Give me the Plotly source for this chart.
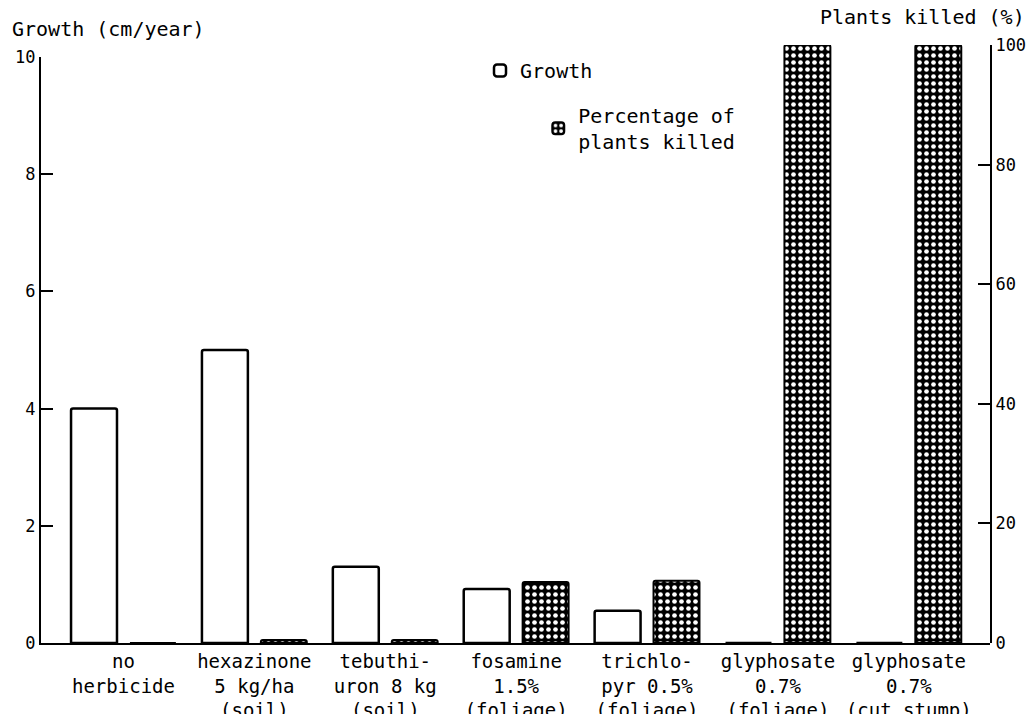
import plotly.graph_objects as go

categories = [
    "no<br>herbicide",
    "hexazinone<br>5 kg/ha<br>(soil)",
    "tebuthi-<br>uron 8 kg<br>(soil)",
    "fosamine<br>1.5%<br>(foliage)",
    "trichlo-<br>pyr 0.5%<br>(foliage)",
    "glyphosate<br>0.7%<br>(foliage)",
    "glyphosate<br>0.7%<br>(cut stump)",
]
growth = [4.0, 5.0, 1.3, 0.92, 0.55, 0.0, 0.0]
killed = [0.0, 0.5, 0.5, 10.2, 10.4, 100.0, 100.0]
left_ticks = [0, 2, 4, 6, 8, 10]
right_ticks = [0, 20, 40, 60, 80, 100]

xpos = list(range(len(categories)))
FONT = "DejaVu Sans Mono"
FS = 20
CAT_FS = 19
NUM_FS = 17

fig = go.Figure()
fig.add_trace(go.Bar(
    x=xpos, y=growth, name="Growth", xaxis="x", yaxis="y",
    offsetgroup="g", alignmentgroup="a",
    marker=dict(color="white", line=dict(color="black", width=2.5), cornerradius=2),
    legend="legend", showlegend=True,
))
fig.add_trace(go.Bar(
    x=xpos, y=killed, name="Percentage of<br>plants killed", xaxis="x", yaxis="y2",
    offsetgroup="k", alignmentgroup="a",
    marker=dict(color="black", line=dict(color="black", width=2), cornerradius=2,
                pattern=dict(shape=".", fgcolor="white", bgcolor="black",
                             size=7, solidity=0.35, fillmode="replace")),
    legend="legend2", showlegend=True,
))

fig.update_layout(
    width=1035, height=714,
    margin=dict(l=33, r=53, t=37, b=79),
    paper_bgcolor="white", plot_bgcolor="rgba(0,0,0,0)",
    font=dict(family=FONT, size=FS, color="black"),
    showlegend=True,
    barmode="group", bargap=0.10, bargroupgap=0.22,
    xaxis=dict(
        range=[-0.63, 6.62], tickvals=xpos, ticktext=categories,
        showline=True, linecolor="black", linewidth=2, ticks="",
        showgrid=False, zeroline=False, anchor="y", automargin=False,
        ticklabelstandoff=0,
        tickfont=dict(family=FONT, size=CAT_FS),
    ),
    yaxis=dict(
        domain=[0, 0.98], range=[0, 10], tickvals=left_ticks,
        showline=True, linecolor="black", linewidth=2,
        ticks="inside", ticklen=12, tickwidth=2, tickcolor="black",
        showgrid=False, zeroline=False, anchor="x", side="left",
        automargin=False,
        tickfont=dict(family=FONT, size=NUM_FS),
    ),
    yaxis2=dict(
        domain=[0, 1], range=[0, 100], tickvals=right_ticks,
        showline=True, linecolor="black", linewidth=2,
        ticks="inside", ticklen=12, tickwidth=2, tickcolor="black",
        showgrid=False, zeroline=False, anchor="x", side="right",
        automargin=False,
        tickfont=dict(family=FONT, size=NUM_FS),
    ),
    legend=dict(
        x=0.4626, y=0.99, xanchor="left", yanchor="top", visible=True,
        bgcolor="rgba(0,0,0,0)", font=dict(family=FONT, size=FS),
    ),
    legend2=dict(
        x=0.524, y=0.915, xanchor="left", yanchor="top", visible=True,
        bgcolor="rgba(0,0,0,0)", font=dict(family=FONT, size=FS),
    ),
    annotations=[
        dict(text="Growth (cm/year)", xref="paper", yref="paper",
             x=-0.033, y=1.0, xanchor="left", yanchor="bottom",
             yshift=2, showarrow=False, font=dict(family=FONT, size=FS)),
        dict(text="Plants killed (%)", xref="paper", yref="paper",
             x=1.039, y=1.0, xanchor="right", yanchor="bottom",
             yshift=14, showarrow=False, font=dict(family=FONT, size=FS)),
    ],
)

fig.write_html("out.html")
